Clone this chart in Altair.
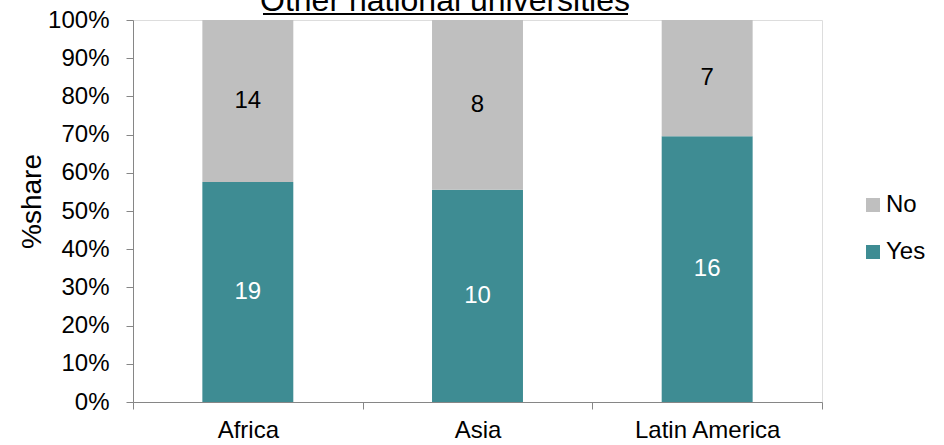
import altair as alt
import pandas as pd

# Survey counts per region
regions = ["Africa", "Asia", "Latin America"]
yes_counts = [19, 10, 16]
no_counts = [14, 8, 7]
answers = ["No", "Yes"]
answer_colors = ["#BFBFBF", "#3E8C93"]
title_text = "Other national universities"
y_ticks = [0, 10, 20, 30, 40, 50, 60, 70, 80, 90, 100]

rows = []
for r, y, n in zip(regions, yes_counts, no_counts):
    rows.append({"region": r, "answer": "Yes", "count": y, "rank": 0})
    rows.append({"region": r, "answer": "No", "count": n, "rank": 1})
df = pd.DataFrame(rows)

FONT = "Liberation Sans"
AXIS_GREY = "#868686"

# Stack each region's answers into percentage shares (0-100)
base = (
    alt.Chart(df)
    .transform_stack(
        stack="count",
        groupby=["region"],
        as_=["s0", "s1"],
        sort=[alt.SortField("rank", order="ascending")],
        offset="normalize",
    )
    .transform_calculate(
        y0="datum.s0 * 100",
        y1="datum.s1 * 100",
        mid="(datum.s0 + datum.s1) * 50",
        txtcol="datum.answer == 'Yes' ? 'white' : 'black'",
    )
)

x_axis = alt.Axis(
    title=None,
    labelAngle=0,
    labelFontSize=24,
    labelFont=FONT,
    labelColor="black",
    labelPadding=9,
    tickSize=7,
    tickBand="extent",
    tickColor=AXIS_GREY,
    domainColor=AXIS_GREY,
    grid=False,
)

y_axis = alt.Axis(
    values=y_ticks,
    labelExpr="datum.value + '%'",
    labelOverlap=False,
    labelFontSize=24,
    labelFont=FONT,
    labelColor="black",
    labelPadding=17,
    tickSize=7,
    tickColor=AXIS_GREY,
    domainColor=AXIS_GREY,
    grid=False,
    title="%share",
    titleFont=FONT,
    titleFontSize=28,
    titleFontWeight="normal",
    titleColor="black",
    titleAngle=270,
    titleX=-101,
    titleY=181,
    titleAlign="center",
    titleBaseline="middle",
)

x_scale = alt.Scale(paddingInner=0, paddingOuter=0)
y_scale = alt.Scale(domain=[0, 100], nice=False)

bars = base.mark_bar(width=alt.RelativeBandSize(0.396)).encode(
    x=alt.X("region:N", sort=regions, scale=x_scale, axis=x_axis),
    y=alt.Y("y0:Q", scale=y_scale, axis=y_axis),
    y2="y1:Q",
    color=alt.Color(
        "answer:N",
        scale=alt.Scale(domain=answers, range=answer_colors),
        legend=alt.Legend(
            orient="none",
            legendX=728,
            legendY=173,
            title=None,
            symbolType="square",
            symbolSize=196,
            symbolStrokeWidth=0,
            labelFontSize=24,
            labelFont=FONT,
            labelColor="black",
            labelOffset=1,
            rowPadding=23,
            padding=0,
        ),
    ),
)

labels = base.mark_text(fontSize=24, font=FONT, baseline="middle").encode(
    x=alt.X("region:N", sort=regions, scale=x_scale, axis=x_axis),
    y=alt.Y("mid:Q", scale=y_scale, axis=y_axis),
    text=alt.Text("count:Q"),
    color=alt.Color("txtcol:N", scale=None),
)

title_df = pd.DataFrame({"t": [title_text]})
title = alt.Chart(title_df).mark_text(
    fontSize=32, font=FONT, baseline="alphabetic", align="center", color="black"
).encode(text="t:N", x=alt.value(312), y=alt.value(-9))

underline = alt.Chart(title_df).mark_rule(color="black", strokeWidth=2).encode(
    x=alt.value(130), x2=alt.value(495), y=alt.value(-6)
)

chart = (
    alt.layer(bars, labels, title, underline)
    .properties(
        width=689,
        height=382,
        autosize=alt.AutoSizeParams(type="none"),
        padding={"left": 133, "top": 20, "right": 122, "bottom": 43},
    )
    .configure_view(strokeWidth=0)
    .configure(font=FONT)
)

chart.save("out.html", embed_options={"renderer": "svg", "actions": False})
